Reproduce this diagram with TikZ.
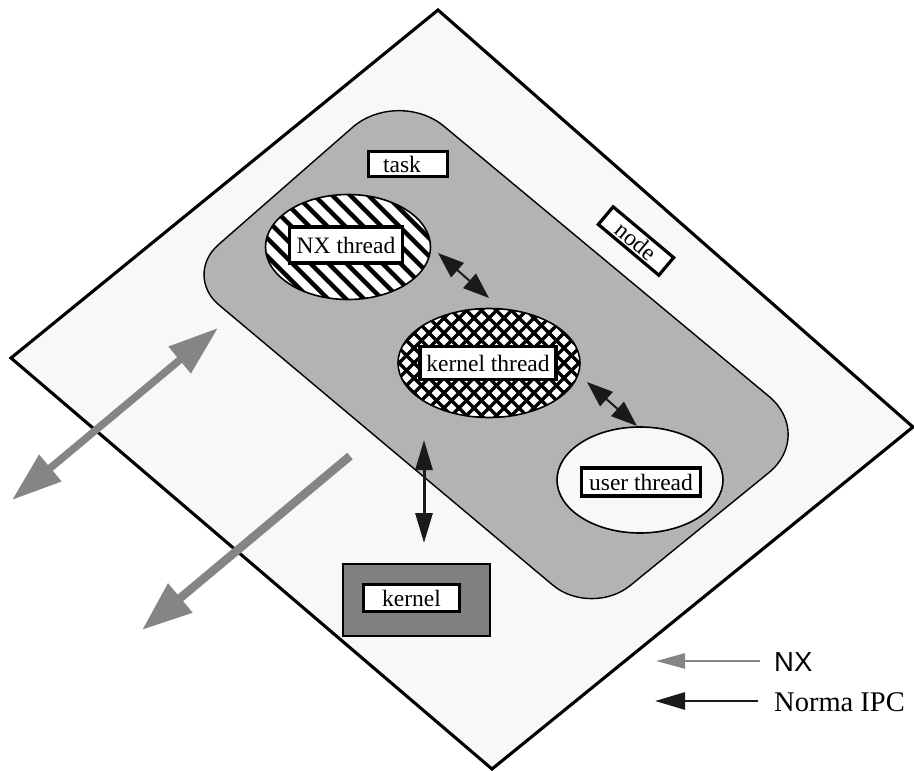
\documentclass[tikz,border=0pt]{standalone}
\usepackage{fontspec}
\setmainfont{Liberation Serif}
\newfontfamily\sansf{Liberation Sans}
\usetikzlibrary{arrows.meta,shapes.geometric}
\definecolor{planefill}{HTML}{F8F8F8}
\definecolor{taskfill}{HTML}{B3B3B3}
\definecolor{kernfill}{HTML}{808080}
\definecolor{nxgray}{HTML}{858585}
\definecolor{ipcblack}{HTML}{1A1A1A}
\begin{document}
\begin{tikzpicture}[x=1pt,y=-1pt,
  lbl/.style={draw=black, line width=3.2pt, fill=white, inner sep=0pt,
    font=\fontsize{23.5}{28}\selectfont},
  thr/.style={ellipse, draw=black, line width=1.6pt, inner sep=0pt},
  hatchA/.style={path picture={\foreach \i in {-12,...,12}{
      \draw[line width=4.3pt] ([xshift=\i*18pt]path picture bounding box.center)
        ++(-130pt,130pt) -- ++(260pt,-260pt);}}},
  hatchX/.style={path picture={\foreach \i in {-16,...,16}{
      \draw[line width=3.4pt] ([xshift=\i*15pt]path picture bounding box.center)
        ++(-130pt,130pt) -- ++(260pt,-260pt);
      \draw[line width=3.4pt] ([xshift=\i*15pt]path picture bounding box.center)
        ++(-130pt,-130pt) -- ++(260pt,260pt);}}},
  ipc/.style={draw=ipcblack, line width=#1},
  nxarrow/.style={draw=nxgray, line width=#1},
]
\path[use as bounding box] (0,0) rectangle (914,771);

% node plane
\draw[fill=planefill, line width=3.1pt, line join=miter]
  (438,10) -- (913,427) -- (492,769) -- (11,358) -- cycle;

% task region
\draw[fill=taskfill, line width=1.4pt]
  (218.2,244.9) -- (352.5,127.4)
  .. controls (377.4,105.6) and (418.4,105.0) .. (443.9,126.2)
  -- (769.1,396.5)
  .. controls (794.6,417.7) and (794.5,451.8) .. (768.8,472.7)
  -- (630.0,585.7)
  .. controls (608.6,603.1) and (574.0,602.9) .. (552.9,585.2)
  -- (218.8,304.8)
  .. controls (199.3,288.5) and (199.1,261.6) .. (218.2,244.9) -- cycle;

% threads
\node[thr, fill=white, hatchA, minimum width=165pt, minimum height=105pt] (nx) at (348,247) {};
\node[thr, fill=white, hatchX, minimum width=182pt, minimum height=109pt] (kt) at (489,363) {};
\node[thr, fill=planefill, minimum width=166pt, minimum height=106pt] (ut) at (640,480) {};

% labels
\node[lbl, minimum width=79pt, minimum height=25pt] (taskl) at (408,164) {\hspace*{-12pt}task};
\node[lbl, minimum width=113pt, minimum height=36pt] (nxl) at (346,245) {NX thread};
\node[lbl, minimum width=136pt, minimum height=33pt] (ktl) at (488,363) {kernel thread};
\node[lbl, minimum width=119pt, minimum height=28pt] (utl) at (641,482) {user thread};
\node[lbl, rotate=-40, minimum width=79pt, minimum height=23pt] (nodel) at (636,241) {node};

% kernel
\node[draw=black, line width=2.9pt, fill=kernfill, minimum width=147pt, minimum height=72pt, inner sep=0pt] (kb) at (416.5,600) {};
\node[lbl, minimum width=96pt, minimum height=27pt] (kl) at (411.5,598) {kernel};

% connector end points
\coordinate (a1s) at (438,253); \coordinate (a1e) at (489,298);
\coordinate (a2s) at (587,382); \coordinate (a2e) at (637,426);
\coordinate (a3s) at (424,440); \coordinate (a3e) at (424,543);
\coordinate (g1s) at (218,328); \coordinate (g1e) at (12,500);
\coordinate (g2s) at (350,456); \coordinate (g2e) at (142,630);

% Norma IPC arrows
\draw[ipc=2pt, {Triangle[length=26pt,width=19pt]}-{Triangle[length=26pt,width=19pt]}] (a1s) -- (a1e);
\draw[ipc=2pt, {Triangle[length=26pt,width=19pt]}-{Triangle[length=26pt,width=19pt]}] (a2s) -- (a2e);
\draw[ipc=3pt, {Triangle[length=30pt,width=17pt]}-{Triangle[length=30pt,width=17pt]}] (a3s) -- (a3e);

% NX arrows
\draw[nxarrow=7.5pt, {Triangle[length=50pt,width=33pt]}-{Triangle[length=50pt,width=33pt]}] (g1s) -- (g1e);
\draw[nxarrow=8.5pt, -{Triangle[length=50pt,width=36pt]}] (g2s) -- (g2e);

% legend
\coordinate (l1s) at (760,661); \coordinate (l1e) at (656,661);
\coordinate (l2s) at (758,701); \coordinate (l2e) at (655,701);
\draw[nxarrow=2.5pt, -{Triangle[length=29pt,width=15pt]}] (l1s) -- (l1e);
\draw[ipc=2.8pt, -{Triangle[length=30pt,width=17pt]}] (l2s) -- (l2e);
\node[anchor=west, inner sep=0pt, font=\sansf\fontsize{27.5}{30}\selectfont] (nxt) at (774,662) {NX};
\node[anchor=west, inner sep=0pt, font=\fontsize{28.5}{32}\selectfont] (ipct) at (774,702) {Norma IPC};
\end{tikzpicture}
\end{document}
